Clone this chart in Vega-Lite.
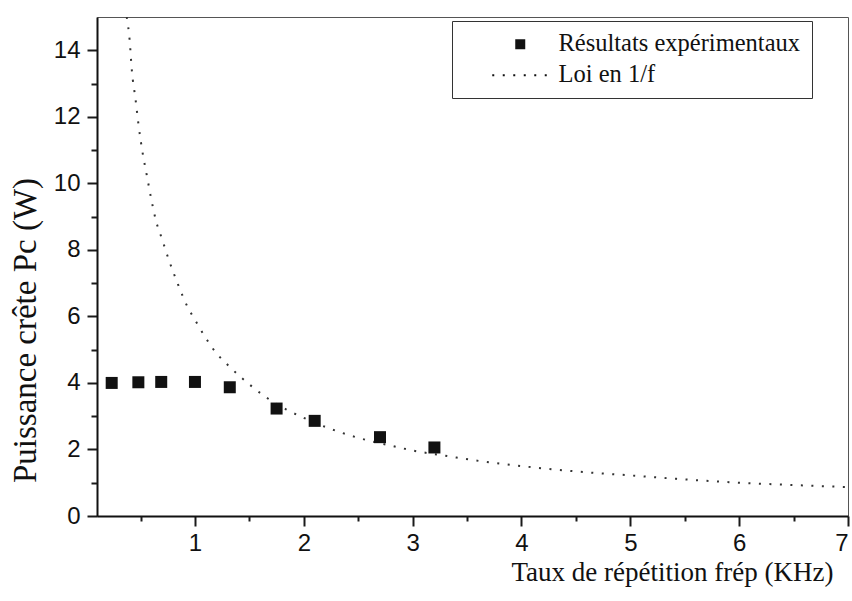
{
  "$schema": "https://vega.github.io/schema/vega-lite/v6.json",
  "width": 751,
  "height": 499,
  "autosize": "none",
  "padding": {"left": 97, "top": 17, "right": 4, "bottom": 85},
  "background": "white",
  "config": {
    "view": {"stroke": "#555", "strokeWidth": 1},
    "axis": {
      "domainColor": "#111111",
      "domainWidth": 2,
      "tickColor": "#1a1a1a",
      "tickWidth": 2,
      "labelFont": "Liberation Sans",
      "labelFontSize": 24,
      "labelColor": "#111",
      "titleFont": "Liberation Serif",
      "titleFontWeight": "normal",
      "titleColor": "#111",
      "grid": false
    }
  },
  "datasets": {
    "mesures": [
      {"f": 0.235, "p": 4.0, "serie": "Résultats expérimentaux"},
      {"f": 0.48, "p": 4.02, "serie": "Résultats expérimentaux"},
      {"f": 0.69, "p": 4.03, "serie": "Résultats expérimentaux"},
      {"f": 1.0, "p": 4.03, "serie": "Résultats expérimentaux"},
      {"f": 1.32, "p": 3.87, "serie": "Résultats expérimentaux"},
      {"f": 1.75, "p": 3.23, "serie": "Résultats expérimentaux"},
      {"f": 2.1, "p": 2.86, "serie": "Résultats expérimentaux"},
      {"f": 2.7, "p": 2.37, "serie": "Résultats expérimentaux"},
      {"f": 3.2, "p": 2.06, "serie": "Résultats expérimentaux"}
    ],
    "loi": [
      {"f": 0.373, "p": 15.0, "serie": "Loi en 1/f"},
      {"f": 0.4, "p": 14.3, "serie": "Loi en 1/f"},
      {"f": 0.42, "p": 13.4, "serie": "Loi en 1/f"},
      {"f": 0.455, "p": 12.5, "serie": "Loi en 1/f"},
      {"f": 0.48, "p": 11.8, "serie": "Loi en 1/f"},
      {"f": 0.52, "p": 10.9, "serie": "Loi en 1/f"},
      {"f": 0.56, "p": 10.2, "serie": "Loi en 1/f"},
      {"f": 0.6, "p": 9.5, "serie": "Loi en 1/f"},
      {"f": 0.64, "p": 8.9, "serie": "Loi en 1/f"},
      {"f": 0.7, "p": 8.3, "serie": "Loi en 1/f"},
      {"f": 0.76, "p": 7.7, "serie": "Loi en 1/f"},
      {"f": 0.84, "p": 7.0, "serie": "Loi en 1/f"},
      {"f": 0.93, "p": 6.3, "serie": "Loi en 1/f"},
      {"f": 1.0, "p": 5.9, "serie": "Loi en 1/f"},
      {"f": 1.09, "p": 5.4, "serie": "Loi en 1/f"},
      {"f": 1.16, "p": 5.05, "serie": "Loi en 1/f"},
      {"f": 1.33, "p": 4.45, "serie": "Loi en 1/f"},
      {"f": 1.43, "p": 4.15, "serie": "Loi en 1/f"},
      {"f": 1.54, "p": 3.85, "serie": "Loi en 1/f"},
      {"f": 1.64, "p": 3.6, "serie": "Loi en 1/f"},
      {"f": 1.84, "p": 3.2, "serie": "Loi en 1/f"},
      {"f": 2.0, "p": 2.95, "serie": "Loi en 1/f"},
      {"f": 2.22, "p": 2.65, "serie": "Loi en 1/f"},
      {"f": 2.5, "p": 2.35, "serie": "Loi en 1/f"},
      {"f": 2.82, "p": 2.1, "serie": "Loi en 1/f"},
      {"f": 3.0, "p": 1.97, "serie": "Loi en 1/f"},
      {"f": 3.32, "p": 1.8, "serie": "Loi en 1/f"},
      {"f": 3.62, "p": 1.65, "serie": "Loi en 1/f"},
      {"f": 4.0, "p": 1.5, "serie": "Loi en 1/f"},
      {"f": 4.5, "p": 1.34, "serie": "Loi en 1/f"},
      {"f": 5.0, "p": 1.22, "serie": "Loi en 1/f"},
      {"f": 5.5, "p": 1.1, "serie": "Loi en 1/f"},
      {"f": 6.0, "p": 1.0, "serie": "Loi en 1/f"},
      {"f": 6.5, "p": 0.93, "serie": "Loi en 1/f"},
      {"f": 7.0, "p": 0.87, "serie": "Loi en 1/f"}
    ]
  },
  "resolve": {"axis": {"x": "independent", "y": "independent"}},
  "layer": [
    {
      "data": {"name": "loi"},
      "mark": {"type": "line", "color": "#333", "strokeWidth": 2, "strokeDash": [2, 8.5], "interpolate": "monotone", "clip": true},
      "encoding": {
        "x": {"field": "f", "type": "quantitative", "scale": {"domain": [0.1, 7], "nice": false, "zero": false}, "axis": null},
        "y": {"field": "p", "type": "quantitative", "scale": {"domain": [0, 15], "nice": false}, "axis": null}
      }
    },
    {
      "data": {"name": "mesures"},
      "mark": {"type": "square", "size": 144, "filled": true, "opacity": 1, "color": "#111"},
      "encoding": {
        "x": {
          "field": "f",
          "type": "quantitative",
          "scale": {"domain": [0.1, 7], "nice": false, "zero": false},
          "axis": {
            "orient": "bottom",
            "title": "Taux de répétition frép (KHz)",
            "titleFontSize": 27,
            "titleAnchor": "end",
            "titleAlign": "right",
            "titleBaseline": "alphabetic",
            "titleX": 736,
            "titleY": 64,
            "values": [1, 2, 3, 4, 5, 6, 7],
            "format": "d",
            "labelPadding": 5,
            "labelFlush": true,
            "labelOverlap": false,
            "tickSize": 10
          }
        },
        "y": {
          "field": "p",
          "type": "quantitative",
          "scale": {"domain": [0, 15], "nice": false},
          "axis": {
            "orient": "left",
            "title": "Puissance crête Pc (W)",
            "titleFontSize": 33,
            "titleAnchor": "middle",
            "titleBaseline": "alphabetic",
            "titleX": -62,
            "titleY": 313,
            "values": [0, 2, 4, 6, 8, 10, 12, 14],
            "labelPadding": 7,
            "labelOverlap": false,
            "labelFlush": false,
            "tickSize": 10
          }
        }
      }
    },
    {
      "data": {"name": "mesures"},
      "mark": {"type": "point", "size": 100, "filled": true, "color": "#111", "opacity": 0},
      "encoding": {
        "x": {
          "field": "f",
          "type": "quantitative",
          "scale": {"domain": [0.1, 7], "nice": false, "zero": false},
          "axis": {
            "orient": "bottom",
            "title": null,
            "values": [0.5, 1.5, 2.5, 3.5, 4.5, 5.5, 6.5],
            "labels": false,
            "domain": false,
            "tickSize": 5
          }
        },
        "y": {
          "field": "p",
          "type": "quantitative",
          "scale": {"domain": [0, 15], "nice": false},
          "axis": {
            "orient": "left",
            "title": null,
            "values": [1, 3, 5, 7, 9, 11, 13],
            "labels": false,
            "domain": false,
            "tickSize": 6
          }
        },
        "shape": {
          "field": "serie",
          "type": "nominal",
          "scale": {
            "domain": ["Résultats expérimentaux", "Loi en 1/f"],
            "range": ["square", "M-5.6,-0.2h0.4v0.4h-0.4zM-3.5,-0.2h0.4v0.4h-0.4zM-1.4,-0.2h0.4v0.4h-0.4zM0.7,-0.2h0.4v0.4h-0.4zM2.8,-0.2h0.4v0.4h-0.4zM4.9,-0.2h0.4v0.4h-0.4z"]
          },
          "legend": {
            "title": null,
            "orient": "none",
            "legendX": 355,
            "legendY": 4,
            "padding": 11,
            "rowPadding": 6,
            "strokeColor": "#333",
            "fillColor": "white",
            "symbolSize": 100,
            "symbolFillColor": "#111",
            "symbolOpacity": 1,
            "symbolOffset": 45,
            "labelOffset": 26,
            "labelFont": "Liberation Serif",
            "labelFontSize": 24.5,
            "labelColor": "#111",
            "labelLimit": 500
          }
        }
      }
    }
  ]
}
